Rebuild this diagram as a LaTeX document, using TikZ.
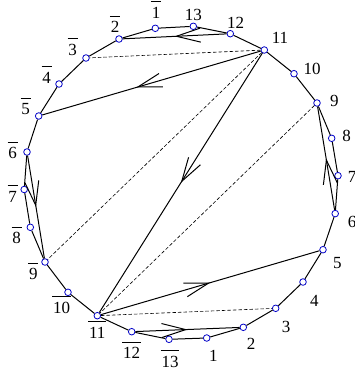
\documentclass[tikz,border=0pt]{standalone}
\usepackage{fontspec}
\setmainfont{Liberation Serif}
\usetikzlibrary{arrows.meta,decorations.markings}
\definecolor{ptblue}{RGB}{0,0,200}
\newcommand\ob[1]{\vbox{\hrule height 1.1pt\kern 4.8pt\hbox{\kern0.8pt#1\kern0.8pt}}}
\tikzset{
  pt/.style={circle,draw=ptblue,fill=white,inner sep=0pt,minimum size=6.6pt,line width=0.8pt},
  lab/.style={anchor=base,inner sep=0pt,font=\fontsize{17}{20}\selectfont},
  poly/.style={line width=1pt},
  chord/.style={line width=1pt},
  dsh/.style={line width=0.6pt,dash pattern=on 3.5pt off 2pt},
  arr/.style={decoration={markings,mark=at position #1 with {\arrow{Straight Barb[length=24pt,width=14pt]}}},postaction=decorate},
  arr/.default=0.5
}
\begin{document}
\begin{tikzpicture}[x=1pt,y=-1pt]
\useasboundingbox (0,0) rectangle (355,373);
% points
\node[pt] (b1) at (155.3,28.3) {};
\node[pt] (b2) at (119,39) {};
\node[pt] (b3) at (86,58) {};
\node[pt] (b4) at (59,84) {};
\node[pt] (b5) at (38.7,116) {};
\node[pt] (b6) at (27,152) {};
\node[pt] (b7) at (24.2,189.5) {};
\node[pt] (b8) at (30.3,227.3) {};
\node[pt] (b9) at (45,262) {};
\node[pt] (b10) at (68,292.3) {};
\node[pt] (b11) at (97.3,315.7) {};
\node[pt] (b12) at (131.7,331.7) {};
\node[pt] (b13) at (169,339.3) {};
\node[pt] (a1) at (206.7,338) {};
\node[pt] (a2) at (243.3,327.3) {};
\node[pt] (a3) at (275.7,308.3) {};
\node[pt] (a4) at (303,282) {};
\node[pt] (a5) at (323,249.7) {};
\node[pt] (a6) at (335.2,213.6) {};
\node[pt] (a7) at (338,175.7) {};
\node[pt] (a8) at (331.7,138.3) {};
\node[pt] (a9) at (317,103) {};
\node[pt] (a10) at (294,73.7) {};
\node[pt] (a11) at (264.3,50) {};
\node[pt] (a12) at (230.3,33.7) {};
\node[pt] (a13) at (193.3,26.3) {};
% polygon
\draw[poly] (b1) -- (b2) -- (b3) -- (b4) -- (b5) -- (b6) -- (b7) -- (b8) -- (b9) -- (b10) -- (b11) -- (b12) -- (b13) -- (a1);
\draw[poly] (a1) -- (a2) -- (a3) -- (a4) -- (a5) -- (a6) -- (a7) -- (a8) -- (a9) -- (a10) -- (a11) -- (a12) -- (a13) -- (b1);
% dashed chords
\draw[dsh] (a11) -- (b3);
\draw[dsh] (a11) -- (b9);
\draw[dsh] (a9) -- (b11);
\draw[dsh] (b11) -- (a3);
% arrowed chords
\draw[chord,arr=0.57] (a11) -- (b5);
\draw[chord,arr] (a11) -- (b11);
\draw[chord,arr] (b11) -- (a5);
\draw[chord,arr] (a12) -- (b2);
\draw[chord,arr] (b12) -- (a2);
\draw[chord,arr] (a6) -- (a9);
\draw[chord,arr] (b6) -- (b9);
% labels
\node[lab] (lb1) at (156,18.1) {\ob{1}};
\node[lab] (lb2) at (115,32.7) {\ob{2}};
\node[lab] (lb3) at (72.7,55.4) {\ob{3}};
\node[lab] (lb4) at (46.7,83.1) {\ob{4}};
\node[lab] (lb5) at (25.7,114.7) {\ob{5}};
\node[lab] (lb6) at (12.7,158.7) {\ob{6}};
\node[lab] (lb7) at (12.7,202) {\ob{7}};
\node[lab] (lb8) at (16.7,243.7) {\ob{8}};
\node[lab] (lb9) at (33.3,279.7) {\ob{9}};
\node[lab] (lb10) at (61.7,313.1) {\ob{10}};
\node[lab] (lb11) at (97.3,338.1) {\ob{11}};
\node[lab] (lb12) at (131.7,358.7) {\ob{12}};
\node[lab] (lb13) at (170,367.1) {\ob{13}};
\node[lab] (la13) at (193.3,20.5) {13};
\node[lab] (la12) at (235.5,28.5) {12};
\node[lab] (la11) at (280,43) {11};
\node[lab] (la10) at (312,74) {10};
\node[lab] (la9) at (334.3,106) {9};
\node[lab] (la8) at (346.5,141.7) {8};
\node[lab] (la7) at (352,182) {7};
\node[lab] (la6) at (352,227) {6};
\node[lab] (la5) at (337.3,268) {5};
\node[lab] (la4) at (314.3,306) {4};
\node[lab] (la3) at (286,332.1) {3};
\node[lab] (la2) at (251,349.5) {2};
\node[lab] (la1) at (213.3,361.5) {1};
\end{tikzpicture}
\end{document}
